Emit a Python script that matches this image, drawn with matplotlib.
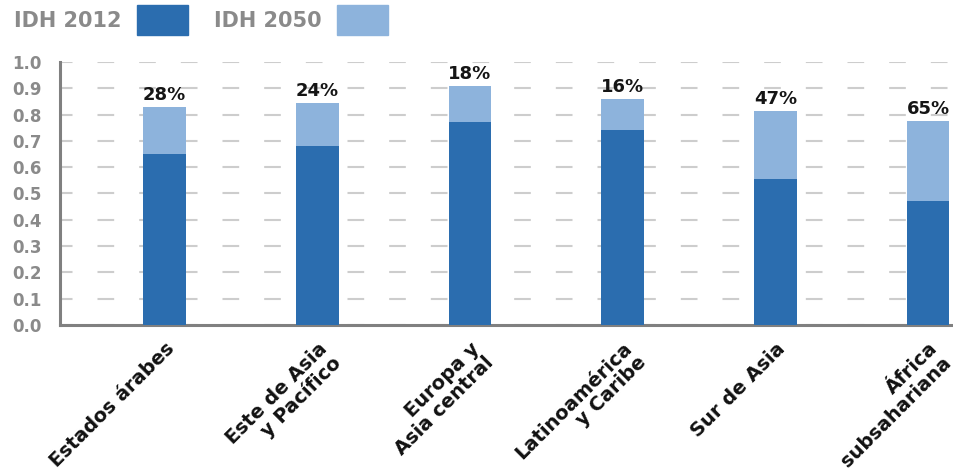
import matplotlib
matplotlib.use("Agg")
import matplotlib.pyplot as plt
from matplotlib.patches import Patch

plt.rcParams['font.family'] = ['DejaVu Sans']
plt.rcParams['font.weight'] = 'bold'

regiones = ["Estados árabes", "Este de Asia\ny Pacífico", "Europa y\nAsia central",
            "Latinoamérica\ny Caribe", "Sur de Asia", "África\nsubsahariana"]
idh_2012 = [0.65, 0.68, 0.77, 0.74, 0.555, 0.47]
idh_2050 = [0.83, 0.845, 0.91, 0.86, 0.815, 0.775]
aumento = ["28%", "24%", "18%", "16%", "47%", "65%"]

oscuro = "#2b6daf"
claro = "#8db3dc"
gris = "#8a8a8a"

fig = plt.figure(figsize=(9.54, 4.76), dpi=100)
ax = fig.add_axes([0.063, 0.317, 0.937, 0.553])

x = list(range(len(regiones)))
ancho = 0.28
incremento = [b - a for a, b in zip(idh_2012, idh_2050)]
ax.bar(x, idh_2012, width=ancho, color=oscuro, zorder=3)
ax.bar(x, incremento, bottom=idh_2012, width=ancho, color=claro, zorder=3)

# porcentaje de aumento sobre cada barra
for xi, tope, txt in zip(x, idh_2050, aumento):
    ax.text(xi, tope + 0.01, txt, ha='center', va='bottom',
            fontsize=13, fontweight='bold', color='#151515', zorder=4)

ax.set_xlim(-0.685, 5.17)
ax.set_ylim(0, 1.0)
ax.set_yticks([i / 10 for i in range(11)])
ax.set_yticklabels([f"{i / 10:.1f}" for i in range(11)])
ax.yaxis.grid(True, linestyle=(2, (8, 12)), color='#cdcdcd', linewidth=1.5, zorder=0)
ax.set_axisbelow(True)

for lado in ['top', 'right']:
    ax.spines[lado].set_visible(False)
for lado in ['left', 'bottom']:
    ax.spines[lado].set_color('#808080')
    ax.spines[lado].set_linewidth(2.2)

ax.tick_params(axis='y', length=0, pad=13, labelsize=12, labelcolor=gris)

ax.set_xticks(x)
ax.set_xticklabels(regiones, rotation=45, ha='right', va='top', rotation_mode='anchor',
                   fontsize=14, fontweight='bold', color='#111111', linespacing=1.05)
ax.tick_params(axis='x', length=0, pad=10)

handles = [Patch(color=oscuro), Patch(color=claro)]
fig.legend(handles, ["IDH 2012", "IDH 2050"], loc='upper left',
           bbox_to_anchor=(0.0145, 0.99), ncol=2, frameon=False, markerfirst=False,
           borderpad=0, borderaxespad=0,
           handlelength=2.45, handleheight=1.85, handletextpad=0.75, columnspacing=1.25,
           prop={'weight': 'bold', 'size': 15}, labelcolor=gris)

fig.savefig("out.png", dpi=100)
